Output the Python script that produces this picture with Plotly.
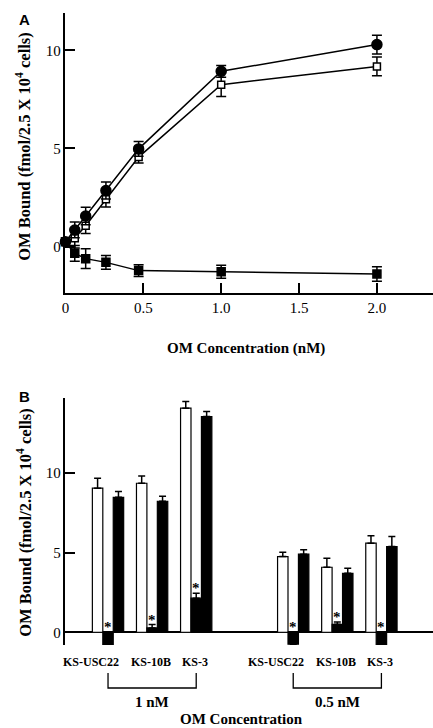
import plotly.graph_objects as go

# ---------------- Panel A data ----------------
conc_nM = [0, 0.06, 0.13, 0.26, 0.47, 1.0, 2.0]
total_bound = [0.25, 0.85, 1.56, 2.86, 4.98, 8.93, 10.29]
total_err = [0, 0.4, 0.45, 0.43, 0.37, 0.3, 0.48]
specific_bound = [0.25, 0.43, 1.07, 2.42, 4.56, 8.25, 9.18]
specific_err = [0, 0.5, 0.4, 0.4, 0.3, 0.6, 0.48]
nonspecific_bound = [0.25, -0.34, -0.61, -0.80, -1.22, -1.28, -1.39]
nonspecific_err = [0, 0.4, 0.5, 0.35, 0.3, 0.33, 0.37]

# ---------------- Panel B data ----------------
cell_lines = ["KS-USC22", "KS-10B", "KS-3"]
concentrations = ["1 nM", "0.5 nM"]
white_vals = [[9.04, 9.35, 14.06], [4.75, 4.08, 5.59]]
white_err = [[0.63, 0.46, 0.42], [0.27, 0.56, 0.46]]
mid_vals = [[-0.96, 0.27, 2.14], [-0.75, 0.50, -1.26]]
mid_err = [[0.21, 0.21, 0.31], [0.30, 0.15, 0.05]]
black_vals = [[8.47, 8.22, 13.54], [4.90, 3.70, 5.38]]
black_err = [[0.36, 0.32, 0.31], [0.27, 0.32, 0.63]]

W, H = 433, 728
FONT = "Liberation Serif, Times New Roman, serif"
SANS = "Liberation Sans, Arial, sans-serif"

def px_x(p):
    return p / W

def px_y(p):
    return 1 - p / H

fig = go.Figure()

def line_trace(y, err, symbol, size, fill):
    return go.Scatter(
        x=conc_nM, y=y, mode="lines+markers", xaxis="x", yaxis="y",
        line=dict(color="black", width=1.5),
        marker=dict(symbol=symbol, size=size, color=fill,
                    line=dict(color="black", width=1.5)),
        error_y=dict(type="data", array=err, visible=True, color="black",
                     thickness=1.5, width=5),
        cliponaxis=False, showlegend=False,
    )

fig.add_trace(line_trace(nonspecific_bound, nonspecific_err, "square", 8, "black"))
fig.add_trace(line_trace(specific_bound, specific_err, "square", 7, "white"))
fig.add_trace(line_trace(total_bound, total_err, "circle", 10, "black"))

GAP = 4.2
positions, flat = [], {"w": [], "we": [], "m": [], "me": [], "b": [], "be": []}
for c in range(len(concentrations)):
    for i in range(len(cell_lines)):
        positions.append(i + c * GAP)
        flat["w"].append(white_vals[c][i]); flat["we"].append(white_err[c][i])
        flat["m"].append(mid_vals[c][i]); flat["me"].append(mid_err[c][i])
        flat["b"].append(black_vals[c][i]); flat["be"].append(black_err[c][i])

def bar_trace(vals, errs, fill):
    up = [e if v >= 0 else 0 for v, e in zip(vals, errs)]
    down = [e if v < 0 else 0 for v, e in zip(vals, errs)]
    return go.Bar(
        x=positions, y=vals, xaxis="x2", yaxis="y2",
        marker=dict(color=fill, line=dict(color="black", width=1.2)),
        error_y=dict(type="data", symmetric=False, array=up, arrayminus=down,
                     color="black", thickness=1.5, width=3.5),
        showlegend=False,
    )

fig.add_trace(bar_trace(flat["w"], flat["we"], "white"))
fig.add_trace(bar_trace(flat["m"], flat["me"], "black"))
fig.add_trace(bar_trace(flat["b"], flat["be"], "black"))

def ann(x, y, text, size, family=FONT, xref="paper", yref="paper", **kw):
    d = dict(x=x, y=y, xref=xref, yref=yref, text=text, showarrow=False,
             xanchor="center", yanchor="middle",
             font=dict(family=family, size=size, color="black"))
    d.update(kw)
    return d

annotations = []
shapes = []
for p, v, e in zip(positions, flat["m"], flat["me"]):
    top = v + e if v > 0 else 0
    annotations.append(ann(p, top, "<b>*</b>", 15, xref="x2", yref="y2",
                           yanchor="bottom", yshift=-5))
for c in range(len(concentrations)):
    for i, name in enumerate(cell_lines):
        p = i + c * GAP
        shift = -17 if i == 0 else -1
        annotations.append(ann(p, px_y(662), "<b>%s</b>" % name, 12,
                               xref="x2", xshift=shift))
    p0 = c * GAP
    p1 = (len(cell_lines) - 1) + c * GAP
    shapes.append(dict(type="path", xref="x2", yref="paper",
                       path="M %f,%f L %f,%f L %f,%f L %f,%f" % (
                           p0, px_y(673), p0, px_y(688), p1, px_y(688), p1, px_y(673)),
                       line=dict(color="black", width=1.3)))
    annotations.append(ann((p0 + p1) / 2, px_y(702), "<b>%s</b>" % concentrations[c],
                           15, xref="x2"))

ytitle = "<b>OM Bound (fmol/2.5 X 10<sup>4</sup> cells)</b>"
annotations += [
    ann(px_x(20), px_y(146), ytitle, 16.5, textangle=-90),
    ann(px_x(20), px_y(522), ytitle, 16.5, textangle=-90),
    ann(px_x(244), px_y(348), "<b>OM Concentration (nM)</b>", 15),
    ann(px_x(240), px_y(719), "<b>OM Concentration</b>", 15),
    ann(px_x(21), px_y(19), "<b>A</b>", 15, family=SANS),
    ann(px_x(21), px_y(397), "<b>B</b>", 15, family=SANS),
]

tickfont = dict(family=FONT, size=15, color="black")
fig.update_layout(
    width=W, height=H, margin=dict(l=0, r=0, t=0, b=0),
    paper_bgcolor="white", plot_bgcolor="white",
    barmode="group", bargap=0.29, bargroupgap=0,
    font=dict(family=FONT, color="black"),
    xaxis=dict(domain=[px_x(62), 1], range=[0, 2.36], anchor="y",
               showline=True, linecolor="black", linewidth=1.5,
               ticks="inside", ticklen=10, tickwidth=1.5, tickcolor="black",
               tickvals=[0, 0.5, 1, 1.5, 2], ticktext=["0", "0.5", "1.0", "1.5", "2.0"],
               tickfont=tickfont, showgrid=False, zeroline=False),
    yaxis=dict(domain=[px_y(293), px_y(13)], range=[-2.36, 11.9], anchor="x",
               showline=True, linecolor="black", linewidth=1.5,
               ticks="inside", ticklen=10, tickwidth=1.5, tickcolor="black",
               tickvals=[0, 5, 10], tickfont=tickfont, showgrid=False, zeroline=False),
    xaxis2=dict(domain=[px_x(62), 1], range=[-0.966, 7.37], anchor="y2",
                showline=False, showticklabels=False, ticks="",
                showgrid=False, zeroline=False),
    yaxis2=dict(domain=[px_y(645), px_y(398)], range=[-0.8, 14.7], anchor="x2",
                showline=True, linecolor="black", linewidth=1.5,
                ticks="inside", ticklen=10, tickwidth=1.5, tickcolor="black",
                tickvals=[0, 5, 10], tickfont=tickfont, showgrid=False,
                zeroline=True, zerolinecolor="black", zerolinewidth=1.5),
    annotations=annotations, shapes=shapes,
)

fig.write_html("out.html", config={"displayModeBar": False},
               post_script="document.body.style.margin='0px';")
